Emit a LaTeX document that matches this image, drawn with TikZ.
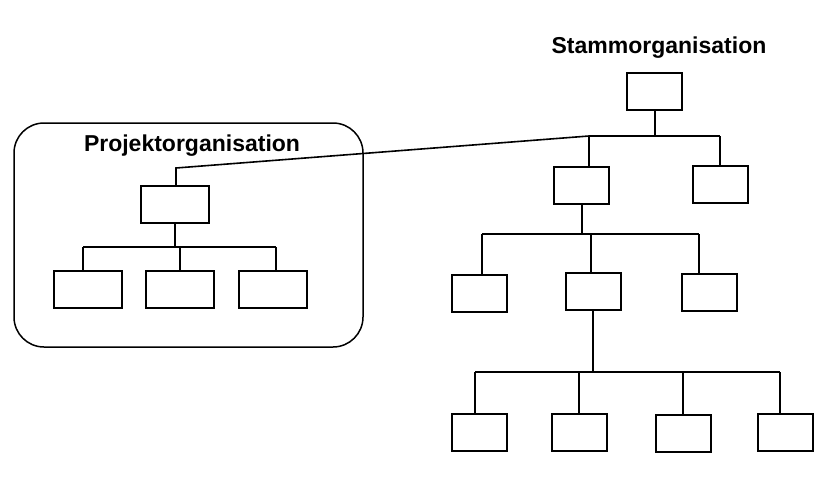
\documentclass[tikz,border=0pt]{standalone}
\usepackage{fontspec}
\setmainfont{Liberation Sans}
\begin{document}
\begin{tikzpicture}[x=1pt,y=-1pt,
  box/.style={draw, line width=2pt, minimum width=55pt, minimum height=37pt, inner sep=0pt},
  wbox/.style={box, minimum width=68pt},
  conn/.style={line width=2pt},
  frame/.style={draw, line width=1.5pt, rounded corners=30pt},
  title/.style={font=\bfseries\fontsize{23}{26}\selectfont, inner sep=0pt}]
\useasboundingbox (0,0) rectangle (829,503);
% project organisation frame
\draw[frame] (14,123) rectangle (363,347);
\node[title] (ptitle) at (192,146) {Projektorganisation};
\node[title] (stitle) at (659,48) {Stammorganisation};
% left tree
\node[wbox] (p0) at (175,204.5) {};
\node[wbox] (p1) at (87.5,289.5) {};
\node[wbox] (p2) at (180,289.5) {};
\node[wbox] (p3) at (272.5,289.5) {};
\coordinate (pbL) at (83,247);
\coordinate (pbR) at (276,247);
\coordinate (pup) at (176,168);
% right tree
\node[box] (root) at (654.5,91.5) {};
\node[box] (a) at (581.5,185.5) {};
\node[box] (b) at (720.5,184.5) {};
\node[box] (c) at (479,293.5) {};
\node[box] (d) at (593,291) {};
\node[box] (e) at (709.5,292.5) {};
\node[box] (f) at (479,432) {};
\node[box] (g) at (579.5,432) {};
\node[box] (h) at (683.5,433) {};
\node[box] (i) at (785.5,432) {};
\coordinate (s1L) at (589,136);
\coordinate (s1R) at (720,136);
\coordinate (s2L) at (482,234);
\coordinate (s2M) at (591,234);
\coordinate (s2R) at (699,234);
\coordinate (s3a) at (475,372);
\coordinate (s3b) at (579,372);
\coordinate (s3c) at (683,372);
\coordinate (s3d) at (780,372);
% left connectors
\draw[conn] (p0.south) -- (p0.south |- pbL);
\draw[conn] (pbL) -- (pbR);
\draw[conn] (pbL) -- (pbL |- p1.north);
\draw[conn] (p2.north) -- (p2.north |- pbL);
\draw[conn] (pbR) -- (pbR |- p3.north);
\draw[line width=1.6pt] (pup |- p0.north) -- (pup) -- (s1L);
% right connectors
\draw[conn] (root.south) -- (root.south |- s1L);
\draw[conn] (s1L) -- (s1R);
\draw[conn] (s1L) -- (s1L |- a.north);
\draw[conn] (s1R) -- (s1R |- b.north);
\draw[conn] (a.south) -- (a.south |- s2L);
\draw[conn] (s2L) -- (s2R);
\draw[conn] (s2L) -- (s2L |- c.north);
\draw[conn] (s2M) -- (s2M |- d.north);
\draw[conn] (s2R) -- (s2R |- e.north);
\draw[conn] (d.south) -- (d.south |- s3a);
\draw[conn] (s3a) -- (s3d);
\draw[conn] (s3a) -- (s3a |- f.north);
\draw[conn] (s3b) -- (s3b |- g.north);
\draw[conn] (s3c) -- (s3c |- h.north);
\draw[conn] (s3d) -- (s3d |- i.north);
\end{tikzpicture}
\end{document}
